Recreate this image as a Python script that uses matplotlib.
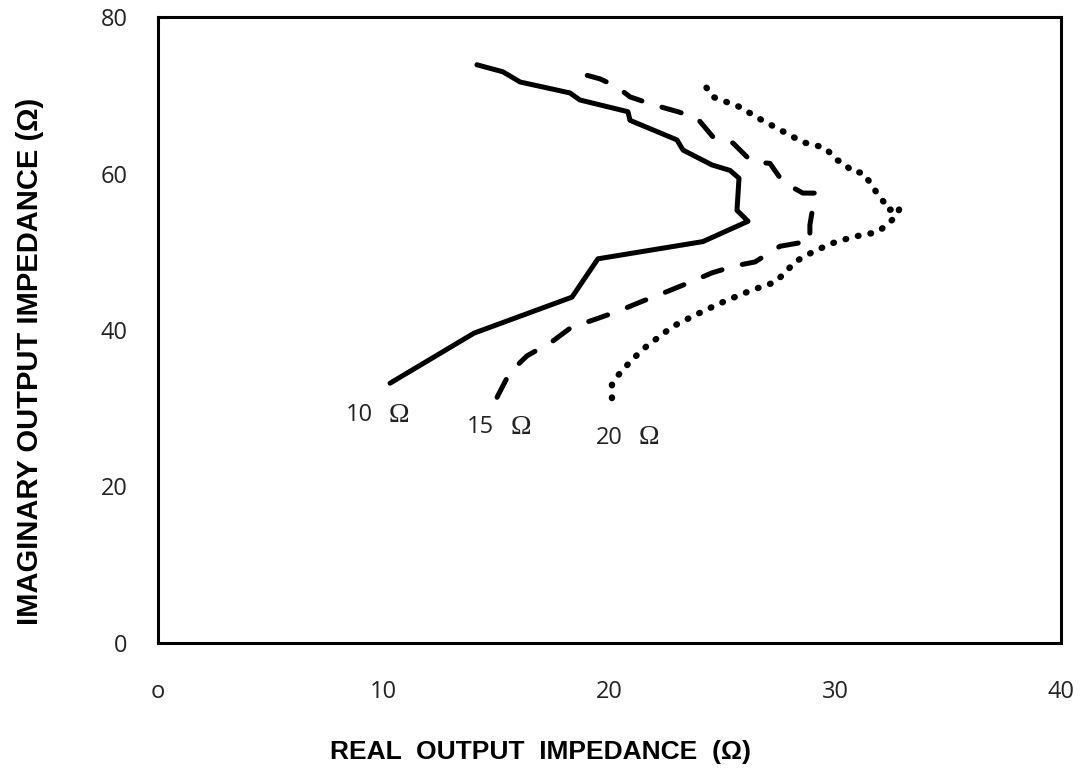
import matplotlib
matplotlib.use("Agg")
import matplotlib.pyplot as plt

# real / imaginary output impedance for three load resistances
re_10 = [10.28, 14.0, 18.34, 19.49, 24.14, 26.14, 25.65, 25.74, 25.34, 24.54, 23.26, 22.99,
         20.91, 20.82, 18.69, 18.25, 16.04, 15.28, 14.13]
im_10 = [33.2, 39.6, 44.2, 49.1, 51.3, 53.9, 55.3, 59.4, 60.4, 61.1, 63.0, 64.3,
         66.8, 67.9, 69.4, 70.3, 71.7, 73.0, 73.9]

re_15 = [15.02, 15.59, 16.35, 17.45, 18.29, 19.40, 20.38, 21.48, 22.37, 23.48, 24.54, 25.56,
         26.45, 27.55, 28.53, 28.88, 28.88, 29.01, 29.10, 28.57, 27.69, 27.11, 26.31, 25.47,
         24.58, 23.88, 23.03, 21.93, 20.91, 20.33, 19.58, 18.69]
im_15 = [31.4, 34.6, 36.7, 38.5, 40.3, 41.4, 42.4, 43.7, 44.7, 46.0, 47.3, 48.2,
         48.7, 50.7, 51.2, 51.2, 53.4, 55.7, 57.5, 57.5, 58.9, 61.3, 61.5, 63.9,
         64.7, 67.1, 67.9, 68.8, 69.8, 71.1, 72.1, 72.8]

re_20 = [20.11, 20.11, 20.38, 20.78, 21.22, 21.71, 22.24, 22.77, 23.79, 24.81, 25.87, 26.80,
         27.33, 27.77, 28.22, 28.75, 29.77, 30.79, 31.85, 32.29, 32.74, 32.87, 32.34, 32.20,
         31.89, 31.63, 31.23, 30.79, 30.30, 30.08, 29.55, 28.57, 27.55, 26.58, 25.78, 24.58,
         24.36, 24.23, 23.88]
im_20 = [31.3, 33.0, 34.2, 35.5, 36.8, 38.1, 39.2, 40.4, 41.9, 43.3, 44.6, 45.6,
         46.1, 47.3, 48.7, 49.6, 51.0, 51.9, 52.5, 53.4, 54.7, 55.7, 55.3, 56.2,
         57.3, 58.5, 60.1, 60.2, 61.5, 61.7, 63.3, 64.0, 65.6, 67.1, 68.5, 69.8,
         70.7, 71.3, 71.7]

curve_labels = ["10", "15", "20"]
label_pos = [(8.3, 29.1), (13.7, 27.6), (19.4, 26.2)]

x_ticks = [0, 10, 20, 30, 40]
x_ticklabels = ["o", "10", "20", "30", "40"]
y_ticks = [0, 20, 40, 60, 80]

fig = plt.figure(figsize=(10.8, 7.68), dpi=100)
ax = fig.add_axes([0.1463, 0.1628, 0.836, 0.815])

ax.plot(re_10, im_10, color="k", lw=3.6, solid_capstyle="round", solid_joinstyle="round")
ax.plot(re_15, im_15, color="k", lw=3.6, dashes=(4, 4.2), dash_capstyle="round")
ax.plot(re_20, im_20, color="k", lw=4.6, dashes=(0.1, 1.9), dash_capstyle="round")

for name, (lx, ly) in zip(curve_labels, label_pos):
    ax.text(lx, ly, name, fontsize=17, family="Open Sans", color="#222222", va="center")
    ax.annotate("Ω", (lx, ly), xytext=(31, 0), textcoords="offset points",
                fontsize=20, family="Liberation Serif", va="center", color="#222222")

ax.set_xlim(0, 40)
ax.set_ylim(0, 80)
ax.set_xticks(x_ticks)
ax.set_xticklabels(x_ticklabels)
ax.set_yticks(y_ticks)
ax.tick_params(length=0, labelsize=17, labelcolor="#222222")
ax.tick_params(axis="x", pad=27)
ax.tick_params(axis="y", pad=22)
for lab in ax.get_xticklabels() + ax.get_yticklabels():
    lab.set_family("Open Sans")
for sp in ax.spines.values():
    sp.set_linewidth(2.2)

fig.text(0.5, 0.005, "REAL  OUTPUT  IMPEDANCE  (Ω)", ha="center", va="bottom",
         fontsize=19, fontweight="bold", family=["Liberation Sans", "DejaVu Sans"])
fig.text(0.028, 0.53, "IMAGINARY OUTPUT IMPEDANCE (Ω)", rotation=90, ha="center", va="center",
         fontsize=21, fontweight="bold", family=["Liberation Sans", "DejaVu Sans"])

fig.savefig("out.png", dpi=100)
